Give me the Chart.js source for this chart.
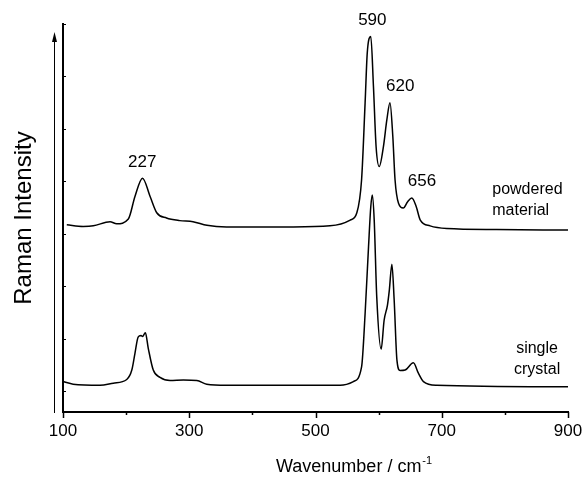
<!DOCTYPE html>
<html><head><meta charset="utf-8">
<script src="https://cdn.jsdelivr.net/npm/chart.js@4.4.1/dist/chart.umd.min.js"></script>
<style>html,body{margin:0;padding:0;background:#fff}#wrap{width:585px;height:478px}</style>
</head><body><div id="wrap"><canvas id="c" width="585" height="478"></canvas></div>
<script>
// ---- data ----
const powderX = [106,132,148,174.5,185,203.5,214,226,238,248.5,264,285,306,328,359,465,523,555,565.5,573,578.6,582,587.6,591.8,596,601,607.6,613,618,622.5,626,631.5,639,646,652.6,659.5,666,681.6,708,787,900];
const powderY = [3.17,3.14,3.15,3.23,3.19,3.28,3.71,4.06,3.71,3.40,3.30,3.25,3.23,3.16,3.13,3.13,3.15,3.26,3.40,4.03,5.50,6.45,6.76,5.81,4.66,4.28,4.66,5.17,5.50,4.85,4.03,3.58,3.49,3.61,3.68,3.52,3.26,3.15,3.10,3.08,3.07];
const singleX = [100.5,116,158.6,179.7,201,209,214,219,223.6,226,230.5,235,243,253.7,269.6,290.7,312,327.7,359,539,560,573,578.6,584,587.6,590,593,597,604,608.7,614,617,621,624.6,629,634,642,655,663,671,692,900];
const singleY = [0.18,0.13,0.11,0.15,0.22,0.40,0.72,1.03,1.06,1.04,1.11,0.82,0.40,0.26,0.20,0.21,0.20,0.13,0.11,0.11,0.18,0.46,1.48,2.75,3.52,3.74,3.26,1.80,0.80,1.35,1.64,1.93,2.42,1.74,0.59,0.39,0.40,0.54,0.34,0.18,0.11,0.08];
const xTickLabels = [100,300,500,700,900];
const peakLabels = ['227','590','620','656'];
const seriesNames = [['powdered','material'],['single','crystal']];
const xTitle = 'Wavenumber / cm';
const xTitleSup = '-1';
const yTitle = 'Raman Intensity';

const FONT = "'Liberation Sans', Arial, sans-serif";
const toPts = (xs, ys) => xs.map((x, i) => ({x: x, y: ys[i]}));

// positions of annotation texts (data-x, data-y of anchor, pixel offsets)
const peakPos = [
  {x: 227, y: 4.06, dx: -1, dy: -16},
  {x: 590, y: 6.76, dx: 0, dy: -16},
  {x: 620, y: 5.50, dx: 9, dy: -16},
  {x: 656, y: 3.68, dx: 8, dy: -17}
];

const decor = {
  id: 'decor',
  afterDraw(chart) {
    const ctx = chart.ctx, xs = chart.scales.x, ys = chart.scales.y;
    const area = chart.chartArea;
    ctx.save();
    ctx.strokeStyle = '#000';
    ctx.fillStyle = '#000';
    // x tick marks (major labelled, minor between)
    ctx.lineWidth = 1.5;
    for (let v = 100; v <= 900; v += 100) {
      const px = Math.round(xs.getPixelForValue(v)) + 0.5;
      const len = xTickLabels.includes(v) ? 6 : 3;
      ctx.beginPath(); ctx.moveTo(px, area.bottom); ctx.lineTo(px, area.bottom + len); ctx.stroke();
    }
    // y tick marks inside
    ctx.lineWidth = 1;
    for (let v = 0; v <= 7; v++) {
      const py = Math.round(ys.getPixelForValue(v)) + 0.5;
      ctx.beginPath(); ctx.moveTo(area.left, py); ctx.lineTo(area.left + 3, py); ctx.stroke();
    }
    // arrow left of the axis
    const ax = 54.5;
    ctx.lineWidth = 1;
    ctx.beginPath(); ctx.moveTo(ax, area.bottom + 1); ctx.lineTo(ax, 38); ctx.stroke();
    ctx.beginPath(); ctx.moveTo(ax, 32); ctx.lineTo(ax - 2.5, 42); ctx.lineTo(ax + 2.5, 42); ctx.closePath(); ctx.fill();
    // peak labels
    ctx.font = '17px ' + FONT;
    ctx.textAlign = 'center'; ctx.textBaseline = 'middle';
    peakLabels.forEach((t, i) => {
      const p = peakPos[i];
      ctx.fillText(t, xs.getPixelForValue(p.x) + p.dx, ys.getPixelForValue(p.y) + p.dy);
    });
    // series names
    ctx.font = '16px ' + FONT;
    ctx.textAlign = 'left';
    const pX = xs.getPixelForValue(780);
    ctx.fillText(seriesNames[0][0], pX, 190);
    ctx.fillText(seriesNames[0][1], pX, 211);
    ctx.textAlign = 'center';
    const sX = xs.getPixelForValue(851);
    ctx.fillText(seriesNames[1][0], sX, 349);
    ctx.fillText(seriesNames[1][1], sX, 370);
    // x title with superscript
    ctx.font = '18px ' + FONT;
    ctx.textAlign = 'left'; ctx.textBaseline = 'alphabetic';
    const tx = 276, ty = 472;
    ctx.fillText(xTitle, tx, ty);
    const w = ctx.measureText(xTitle).width;
    ctx.font = '11px ' + FONT;
    ctx.fillText(xTitleSup, tx + w + 1, ty - 8);
    ctx.restore();
  }
};

new Chart(document.getElementById('c'), {
  type: 'line',
  data: {
    datasets: [
      {label: 'powdered material', data: toPts(powderX, powderY), borderColor: '#000', borderWidth: 1.5, pointRadius: 0, fill: false, cubicInterpolationMode: 'monotone'},
      {label: 'single crystal', data: toPts(singleX, singleY), borderColor: '#000', borderWidth: 1.5, pointRadius: 0, fill: false, cubicInterpolationMode: 'monotone'}
    ]
  },
  options: {
    responsive: false,
    animation: false,
    layout: {padding: {left: 0, top: 24, right: 17, bottom: 0}},
    plugins: {legend: {display: false}, tooltip: {enabled: false}},
    scales: {
      x: {
        type: 'linear', min: 100, max: 900,
        grid: {display: false, drawTicks: false},
        border: {display: true, color: '#000', width: 2},
        ticks: {
          stepSize: 100, autoSkip: false, maxRotation: 0, padding: 9,
          color: '#000', font: {family: FONT, size: 17},
          callback: v => xTickLabels.includes(v) ? String(v) : ''
        },
        afterFit: s => { s.height = 66; s.paddingLeft = 0; s.paddingRight = 0; }
      },
      y: {
        type: 'linear', min: -0.4, max: 7,
        grid: {display: false, drawTicks: false},
        border: {display: true, color: '#000', width: 2},
        ticks: {display: false},
        title: {display: true, text: yTitle, color: '#000', font: {family: FONT, size: 24}, padding: {top: 10, bottom: 0}},
        afterFit: s => { s.width = 63; s.paddingTop = 0; s.paddingBottom = 0; }
      }
    }
  },
  plugins: [decor]
});
</script>
</body></html>
